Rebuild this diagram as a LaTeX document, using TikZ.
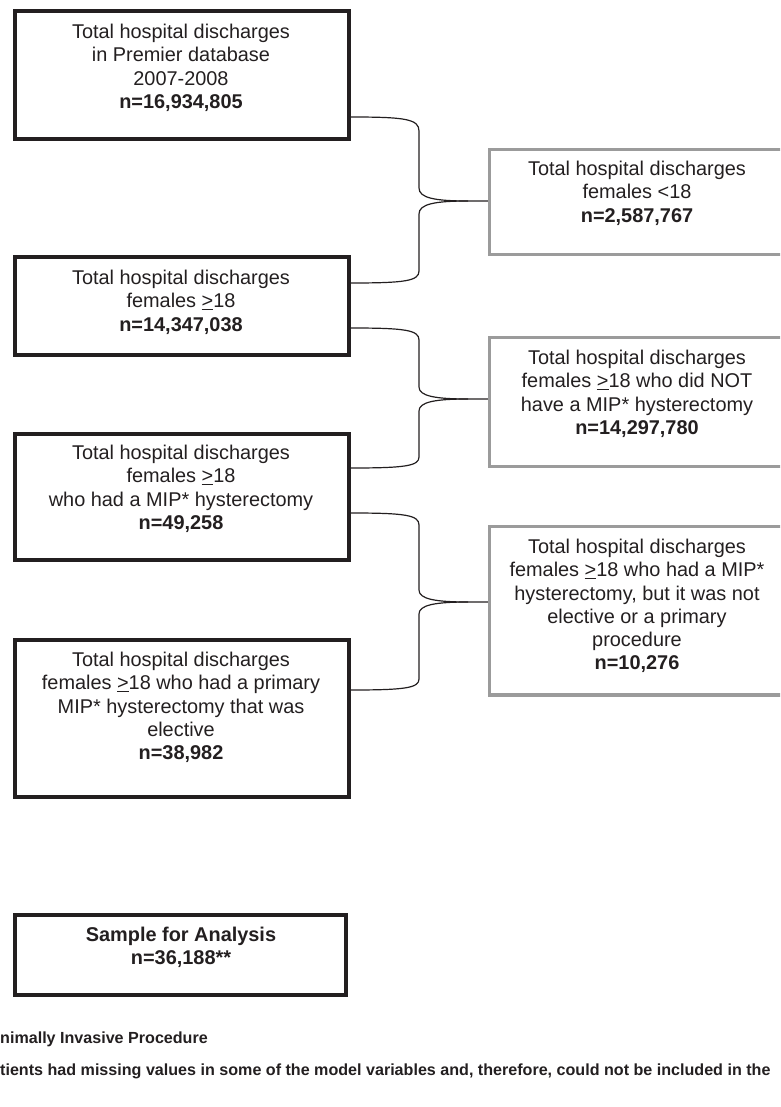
\documentclass[tikz,border=0pt]{standalone}
\usepackage{fontspec}
\setmainfont{Liberation Sans}
\usetikzlibrary{calc}
\definecolor{ink}{HTML}{231F20}
\definecolor{greyb}{HTML}{9B9B9B}
\begin{document}
\begin{tikzpicture}[x=1pt,y=-1pt,
  leftbox/.style={draw=ink, line width=3.6pt, minimum width=334pt, inner sep=0pt},
  rightbox/.style={draw=greyb, line width=3.2pt, minimum width=361pt, inner sep=0pt},
  txt/.style={text=ink, align=center, inner sep=0pt, anchor=north,
    font=\fontsize{19.9}{23.2}\selectfont},
  conn/.style={draw=ink, line width=1.2pt},
  foot/.style={text=ink, inner sep=0pt, anchor=base west,
    font=\fontsize{16.1}{18}\selectfont\bfseries}]
\useasboundingbox (0,0) rectangle (780,1107);
\clip (0,0) rectangle (780,1107);
% left boxes
\node[leftbox, minimum height=128pt] (b1) at (182,75) {};
\node[leftbox, minimum height=98pt] (b2) at (182,306) {};
\node[leftbox, minimum height=126pt] (b3) at (182,497) {};
\node[leftbox, minimum height=157pt] (b4) at (182,718.5) {};
\node[leftbox, minimum height=80pt, minimum width=331pt] (s) at (180.5,955) {};
% right boxes
\node[rightbox, minimum height=105pt] (r1) at (670,202) {};
\node[rightbox, minimum height=129pt] (r2) at (670,402) {};
\node[rightbox, minimum height=168.5pt] (r3) at (670,610.75) {};
% texts
\node[txt] (t1) at (181,24) {Total hospital discharges\\in Premier database\\2007-2008\\\textbf{n=16,934,805}};
\node[txt] (t2) at (181,270) {Total hospital discharges\\females \underline{>}18\\\textbf{n=14,347,038}};
\node[txt] (t3) at (181,445) {Total hospital discharges\\females \underline{>}18\\who had a MIP* hysterectomy\\\textbf{n=49,258}};
\node[txt] (t4) at (181,652) {Total hospital discharges\\females \underline{>}18 who had a primary\\MIP* hysterectomy that was\\elective\\\textbf{n=38,982}};
\node[txt] (ts) at (181,927) {\textbf{Sample for Analysis}\\\textbf{n=36,188**}};
\node[txt] (u1) at (637,161) {Total hospital discharges\\females <18\\\textbf{n=2,587,767}};
\node[txt] (u2) at (637,350) {Total hospital discharges\\females \underline{>}18 who did NOT\\have a MIP* hysterectomy\\\textbf{n=14,297,780}};
\node[txt] (u3) at (637,539) {Total hospital discharges\\females \underline{>}18 who had a MIP*\\hysterectomy, but it was not\\elective or a primary\\procedure\\\textbf{n=10,276}};
% braces
\coordinate (k1) at (468,201);
\draw[conn] (b1.east |- 0,117) .. controls (405,117) and (419,119) .. (419,131) -- (419,188)
  .. controls (419,198) and (435,201) .. (k1) -- (r1.west |- k1);
\draw[conn] (k1) .. controls (435,201) and (419,204) .. (419,214) -- (419,271)
  .. controls (419,281) and (405,283) .. (b2.east |- 0,283);
\coordinate (k2) at (468,399);
\draw[conn] (b2.east |- 0,328) .. controls (405,328) and (419,330) .. (419,340) -- (419,387)
  .. controls (419,396) and (435,399) .. (k2) -- (r2.west |- k2);
\draw[conn] (k2) .. controls (435,399) and (419,402) .. (419,411) -- (419,457)
  .. controls (419,466) and (405,468) .. (b3.east |- 0,468);
\coordinate (k3) at (468,602);
\draw[conn] (b3.east |- 0,513) .. controls (405,513) and (419,515) .. (419,525) -- (419,590)
  .. controls (419,599) and (435,602) .. (k3) -- (r3.west |- k3);
\draw[conn] (k3) .. controls (435,602) and (419,605) .. (419,614) -- (419,679)
  .. controls (419,688) and (405,690) .. (b4.east |- 0,690);
% footnotes
\node[foot] (f1) at (0,1043) {nimally Invasive Procedure};
\node[foot] (f2) at (0,1075) {tients had missing values in some of the model variables and, therefore, could not be included in the};
\end{tikzpicture}
\end{document}
